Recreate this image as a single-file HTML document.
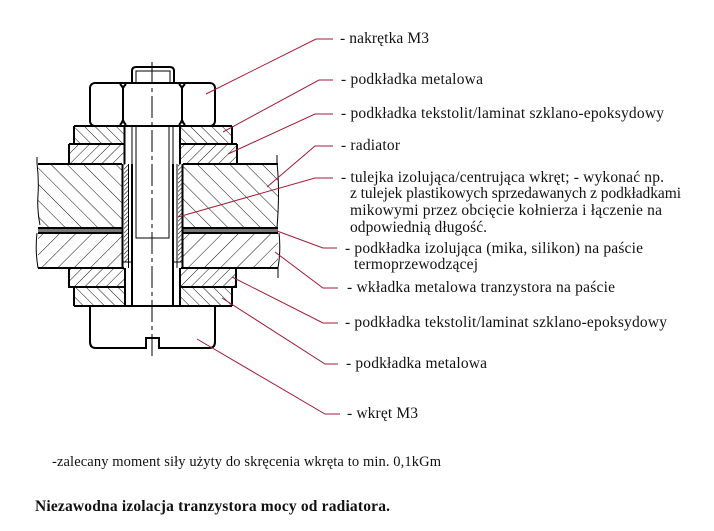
<!DOCTYPE html>
<html><head><meta charset="utf-8"><style>
html,body{margin:0;padding:0;background:#fff;width:714px;height:531px;overflow:hidden}
svg{display:block}
text{font-family:"Liberation Serif",serif;font-size:15.500px;fill:#111}
.k{stroke:#000;stroke-width:2;fill:none}
.t{stroke:#000;stroke-width:1;fill:none}
.r{stroke:#a01c34;stroke-width:1;fill:none}
</style></head><body>
<svg width="714" height="531" viewBox="0 0 714 531" xmlns="http://www.w3.org/2000/svg">
<defs>
<pattern id="h1" patternUnits="userSpaceOnUse" width="11.5" height="11.5" patternTransform="rotate(-45)"><line x1="0" y1="0" x2="0" y2="11.5" stroke="#111" stroke-width="1"/></pattern>
<pattern id="h2" patternUnits="userSpaceOnUse" width="11.5" height="11.5" patternTransform="rotate(45)"><line x1="0" y1="0" x2="0" y2="11.5" stroke="#111" stroke-width="1"/></pattern>
<pattern id="w1" patternUnits="userSpaceOnUse" width="7.5" height="7.5" patternTransform="rotate(-45)"><line x1="0" y1="0" x2="0" y2="7.5" stroke="#111" stroke-width="1"/></pattern>
<pattern id="w2" patternUnits="userSpaceOnUse" width="7.5" height="7.5" patternTransform="rotate(45)"><line x1="0" y1="0" x2="0" y2="7.5" stroke="#111" stroke-width="1"/></pattern>
<pattern id="s" patternUnits="userSpaceOnUse" width="3" height="3" patternTransform="rotate(45)"><line x1="0" y1="0" x2="0" y2="3" stroke="#111" stroke-width="1.2"/></pattern>
</defs>

<!-- radiator + insert -->
<rect x="38" y="163" width="84" height="65" fill="url(#h1)"/>
<rect x="183" y="163" width="95" height="65" fill="url(#h1)"/>
<rect x="38" y="233" width="84" height="35" fill="url(#h2)"/>
<rect x="183" y="233" width="95" height="35" fill="url(#h2)"/>
<rect x="38" y="228" width="84" height="5" fill="#777"/>
<rect x="183" y="228" width="95" height="5" fill="#777"/>
<path class="k" d="M38 164H122M183 164H278M38 228H122M183 228H278M38 233H122M183 233H278M38 268H124M181 268H278"/>
<path class="t" d="M37 157V163Q39 180 38 195T40 225M37 233Q35 250 38 268M277 155V163Q280 190 277 228M279 233Q281 250 278 268V278"/>

<!-- washers -->
<rect x="75" y="127" width="49" height="17" fill="url(#w1)"/>
<rect x="180" y="127" width="52" height="17" fill="url(#w1)"/>
<rect x="70" y="145" width="54" height="18" fill="url(#w2)"/>
<rect x="180" y="145" width="57" height="18" fill="url(#w2)"/>
<path class="k" d="M74 126V144M232 126V144M69 144V164M237 144V164M69 144H125M180 144H237M74 126H232"/>
<rect x="70" y="269" width="55" height="18" fill="url(#w2)"/>
<rect x="180" y="269" width="56" height="18" fill="url(#w2)"/>
<rect x="75" y="288" width="50" height="18" fill="url(#w1)"/>
<rect x="180" y="288" width="52" height="18" fill="url(#w1)"/>
<path class="k" d="M69 268V287H125M236 268V287H180M74 287V306M232 287V306M74 306H232"/>

<!-- sleeve hatch -->
<rect x="124" y="164" width="4" height="98" fill="url(#s)"/>
<rect x="178" y="164" width="4" height="98" fill="url(#s)"/>
<path class="k" d="M122.500 164V268M182.500 164V268"/>
<path class="t" d="M128.500 164V268M177 164V268M123 262H132M173 262H183"/>

<!-- bolt / inner -->
<path class="k" d="M124.500 126V164M180 126V164M125 268V306M180 268V306M132 164V306M173 164V306"/>
<path class="t" d="M132 126V164M173 126V164M136 126V238H169V126"/>

<!-- nut -->
<rect x="90" y="83" width="125" height="43" rx="5" ry="5" fill="#fff" stroke="#000" stroke-width="2"/>
<path class="k" d="M123 87V122M182 87V122"/>
<path class="k" d="M120 84Q122 86 123 88Q124 86 126 84M179 84Q181 86 182 88Q183 86 185 84M120 125Q122 123 123 120Q124 123 126 125M179 125Q181 123 182 120Q183 123 185 125"/>
<path class="k" d="M132 83V71Q132 67 136 67H170Q174 67 174 71V83"/>
<path class="t" d="M136 83V71H170V83"/>

<!-- head -->
<path class="k" d="M90 306V342Q90 348 96 348H146V338H159V348H209Q215 348 215 342V306"/>

<!-- centre line -->
<path d="M152 62V358" stroke="#000" stroke-width="1" stroke-dasharray="22 4 4 4" fill="none"/>

<!-- leaders -->
<polyline class="r" points="206,94 316,39 333,39"/>
<polyline class="r" points="223,132 319,80 333,80"/>
<polyline class="r" points="228,154 315,114 333,114"/>
<polyline class="r" points="267,187 315,146 333,146"/>
<polyline class="r" points="178,217 315,178 333,178"/>
<polyline class="r" points="277,231 323,248 337,248"/>
<polyline class="r" points="275,252 323,288 338,288"/>
<polyline class="r" points="232,277 323,323 338,323"/>
<polyline class="r" points="222,298 325,364 338,364"/>
<polyline class="r" points="197,339 325,414 340,414"/>

<!-- labels -->
<text x="340" y="43" textLength="89" lengthAdjust="spacing">- nakrętka M3</text>
<text x="341" y="84" textLength="142" lengthAdjust="spacing">- podkładka metalowa</text>
<text x="341" y="118" textLength="323" lengthAdjust="spacing">- podkładka tekstolit/laminat szklano-epoksydowy</text>
<text x="341" y="150" textLength="59" lengthAdjust="spacing">- radiator</text>
<text x="341" y="182" textLength="323" lengthAdjust="spacing">- tulejka izolująca/centrująca wkręt; - wykonać np.</text>
<text x="350" y="198" textLength="331" lengthAdjust="spacing">z tulejek plastikowych sprzedawanych z podkładkami</text>
<text x="350" y="215" textLength="312" lengthAdjust="spacing">mikowymi przez obcięcie kołnierza i łączenie na</text>
<text x="350" y="232" textLength="137" lengthAdjust="spacing">odpowiednią długość.</text>
<text x="345" y="253" textLength="298" lengthAdjust="spacing">- podkładka izolująca (mika, silikon) na paście</text>
<text x="354" y="269" textLength="124" lengthAdjust="spacing">termoprzewodzącej</text>
<text x="347" y="292" textLength="268" lengthAdjust="spacing">- wkładka metalowa tranzystora  na paście</text>
<text x="345" y="327" textLength="322" lengthAdjust="spacing">- podkładka tekstolit/laminat szklano-epoksydowy</text>
<text x="346" y="368" textLength="141" lengthAdjust="spacing">- podkładka metalowa</text>
<text x="347" y="418" textLength="71" lengthAdjust="spacing">- wkręt M3</text>
<text x="52" y="466" textLength="389" lengthAdjust="spacing" style="font-size:14.500px">-zalecany moment siły użyty do skręcenia  wkręta to min. 0,1kGm</text>
<text x="35" y="511" textLength="355" lengthAdjust="spacing" style="font-size:15.500px;font-weight:bold">Niezawodna  izolacja  tranzystora  mocy  od  radiatora.</text>
</svg>
</body></html>
